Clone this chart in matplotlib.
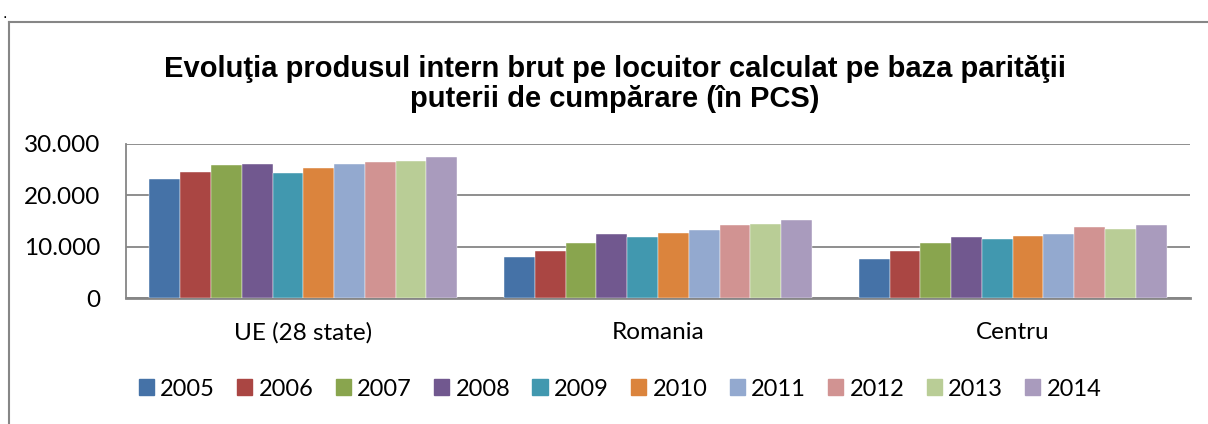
import numpy as np
import matplotlib.pyplot as plt
from matplotlib.lines import Line2D
from matplotlib.patches import Patch

regions = ['UE (28 state)', 'Romania', 'Centru']
years = ['2005', '2006', '2007', '2008', '2009', '2010', '2011', '2012', '2013', '2014']

ue = [23200, 24400, 25800, 26000, 24300, 25300, 26000, 26400, 26600, 27400]
romania = [8000, 9200, 10700, 12500, 11800, 12600, 13300, 14200, 14400, 15200]
centru = [7600, 9100, 10700, 11800, 11500, 12100, 12400, 13800, 13500, 14200]

colors = ['#4572A7', '#AA4643', '#89A54E', '#71588F', '#4198AF',
          '#DB843D', '#93A9CF', '#D19392', '#B9CD96', '#A99BBD']

values = np.array([ue, romania, centru])
yticks = [0, 10000, 20000, 30000]
ytick_labels = ['0', '10.000', '20.000', '30.000']

grey = '#868686'

fig = plt.figure(figsize=(12.08, 4.24), dpi=100)
ax = fig.add_axes([126 / 1208, 1 - 298.3 / 424, (1190 - 126) / 1208, (298.3 - 143.5) / 424])

# outer chart border (cut off at right and bottom)
fig.add_artist(Line2D([9 / 1208, 9 / 1208], [0, 1 - 22 / 424], transform=fig.transFigure,
                      color=grey, lw=1.5))
fig.add_artist(Line2D([9 / 1208, 1], [1 - 22 / 424, 1 - 22 / 424], transform=fig.transFigure,
                      color=grey, lw=1.5))
fig.text(3 / 1208, 1 - 14 / 424, '.', fontsize=12, family='Liberation Sans', va='center')

x = np.arange(len(regions))
w = 0.0868
for i, yr in enumerate(years):
    ax.bar(x - 5 * w + w / 2 + i * w, values[:, i], width=w, color=colors[i],
           edgecolor='white', linewidth=0.3, label=yr, zorder=3)

ax.set_xlim(-0.5, 2.5)
ax.set_ylim(0, 30000)
ax.set_yticks(yticks)
ax.set_yticklabels(ytick_labels)
ax.set_xticks(x)
ax.set_xticklabels(regions)
ax.yaxis.grid(True, color=grey, lw=1.3, zorder=0)
ax.set_axisbelow(True)
for s in ['top', 'right']:
    ax.spines[s].set_visible(False)
ax.spines['left'].set_color(grey)
ax.spines['left'].set_linewidth(1.3)
ax.spines['bottom'].set_color(grey)
ax.spines['bottom'].set_linewidth(2)
ax.tick_params(axis='both', length=0, labelsize=17.5)
ax.tick_params(axis='y', pad=18.5)
ax.tick_params(axis='x', pad=17)
for lab in ax.get_xticklabels() + ax.get_yticklabels():
    lab.set_family('Lato')

fig.text(615 / 1208, 1 - 84 / 424,
         'Evolu\u0163ia produsul intern brut pe locuitor calculat pe baza parit\u0103\u0163ii\nputerii de cump\u0103rare (\u00een PCS)',
         ha='center', va='center', fontsize=21, fontweight='bold', family='Liberation Sans',
         linespacing=1.12)

handles = [Patch(color=c) for c in colors]
leg = fig.legend(handles, years, loc='center', bbox_to_anchor=(620 / 1208, 1 - 389 / 424),
                 ncol=10, frameon=False, prop={'family': 'Lato', 'size': 17},
                 handlelength=0.64, handleheight=0.64, handletextpad=0.27, columnspacing=0.94)

fig.savefig('out.png', dpi=100)
